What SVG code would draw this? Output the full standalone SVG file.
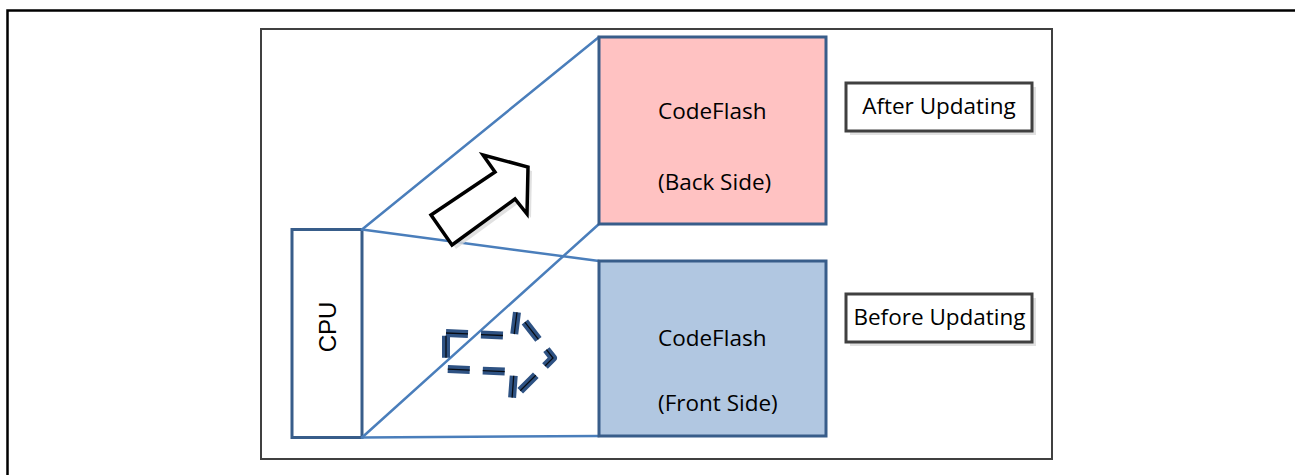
<svg xmlns="http://www.w3.org/2000/svg" width="1295" height="475" viewBox="0 0 1295 475">
  <style>
    .frame { fill: none; stroke: #000; stroke-width: 2.5; }
    .panel { fill: #fff; stroke: #404040; stroke-width: 2; }
    .mem { stroke: #385D8A; stroke-width: 3; }
    .link { fill: none; stroke: #4A7EBB; stroke-width: 2.5; stroke-linecap: round; }
    .lbl { font-family: "Open Sans", "Noto Sans", sans-serif; font-size: 22.5px; fill: #000; }
    .tag { fill: #fff; stroke: #404040; stroke-width: 3; }
    .shadow { fill: #d9d9d9; opacity: 0.8; }
  </style>

  <!-- outer border -->
  <path class="frame" d="M7.5,480 V10.5 H1300"/>

  <!-- inner panel -->
  <rect class="panel" x="261" y="29" width="791" height="430"/>

  <!-- CPU -->
  <g id="cpu">
    <rect class="mem" x="292" y="229.5" width="70" height="208" fill="#fff"/>
    <text x="0" y="0" transform="translate(336,327) rotate(-90)" text-anchor="middle"
          font-family="Liberation Sans, Arial, sans-serif" font-size="24" fill="#000">CPU</text>
  </g>

  <!-- projection lines from the CPU to the two flash banks -->
  <g id="connectors">
    <line class="link" x1="362" y1="229.5" x2="599" y2="37"/>
    <line class="link" x1="362" y1="229.5" x2="599" y2="261"/>
    <line class="link" x1="362" y1="437.5" x2="599" y2="224"/>
    <line class="link" x1="362" y1="437.5" x2="599" y2="436"/>
  </g>

  <!-- back side flash -->
  <g id="flash-back">
    <rect class="mem" x="599" y="37" width="227" height="187" fill="#FFC2C2"/>
    <text class="lbl" x="658" y="119">CodeFlash</text>
    <text class="lbl" x="658" y="190">(Back Side)</text>
  </g>

  <!-- front side flash -->
  <g id="flash-front">
    <rect class="mem" x="599" y="261" width="227" height="175" fill="#B1C7E1"/>
    <text class="lbl" x="658" y="346">CodeFlash</text>
    <text class="lbl" x="658" y="411">(Front Side)</text>
  </g>

  <!-- solid arrow: after update -->
  <g id="arrow-after">
    <polygon class="shadow" points="435,219 499,176 487,159 532,171 531,218 519,203 456,249"/>
    <polygon points="431,215 495,172 483,155 528,167 527,214 515,199 452,245"
             fill="#fff" stroke="#000" stroke-width="3.5" stroke-linejoin="miter"/>
  </g>

  <!-- dashed arrow: before update -->
  <g id="arrow-before">
    <polygon points="446,333 514,336 517,312 553,358 512,399 514,372 446,369"
             fill="none" stroke="#2E5283" stroke-width="8" stroke-dasharray="22,13" stroke-linejoin="round"/>
    <polygon points="446,333 514,336 517,312 553,358 512,399 514,372 446,369"
             fill="none" stroke="#000" stroke-width="1.3" stroke-dasharray="22,13" opacity="0.85"/>
  </g>

  <!-- state labels -->
  <g id="tag-after">
    <rect class="shadow" x="850" y="87" width="186" height="48"/>
    <rect class="tag" x="846" y="83" width="186" height="48"/>
    <text class="lbl" x="939" y="114" text-anchor="middle">After Updating</text>
  </g>
  <g id="tag-before">
    <rect class="shadow" x="850" y="298" width="186" height="48"/>
    <rect class="tag" x="846" y="294" width="186" height="48"/>
    <text class="lbl" x="939.5" y="325" text-anchor="middle">Before Updating</text>
  </g>
</svg>
